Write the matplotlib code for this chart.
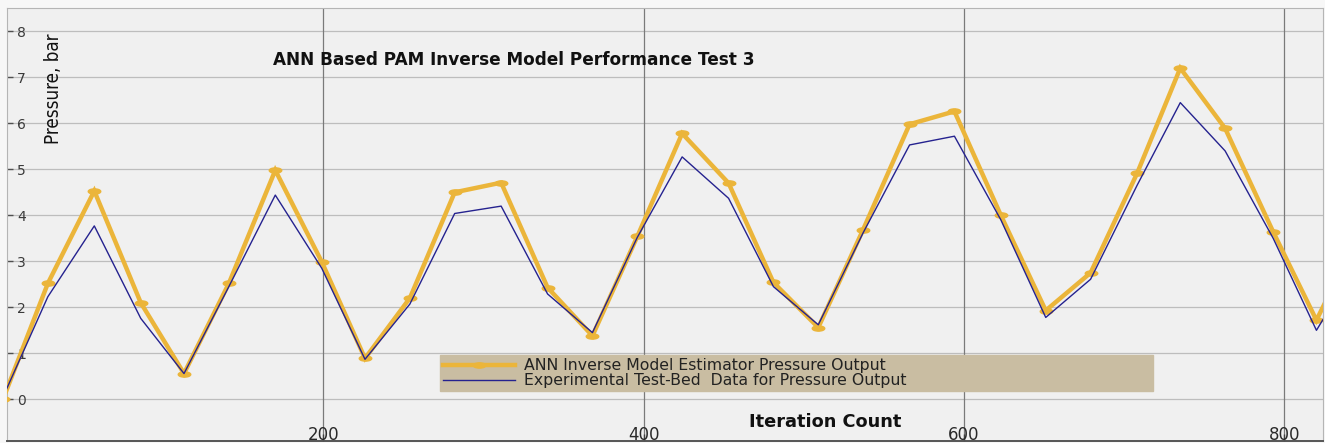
import matplotlib
matplotlib.use("Agg")
import matplotlib.pyplot as plt
from matplotlib.path import Path
from matplotlib.transforms import Affine2D

# ---------------- data ----------------
iterations = [0, 28, 57, 86, 113, 141, 170, 199, 226, 254, 282, 311, 340, 368,
              396, 424, 453, 481, 509, 537, 566, 594, 623, 651, 679, 708, 735,
              763, 793, 820, 848]
ann_pressure = [0.00, 2.52, 4.53, 2.10, 0.56, 2.52, 4.98, 2.99, 0.89, 2.20,
                4.50, 4.71, 2.43, 1.38, 3.54, 5.78, 4.70, 2.54, 1.56, 3.69,
                5.98, 6.26, 4.00, 1.93, 2.75, 4.91, 7.20, 5.89, 3.64, 1.72, 3.70]
exp_pressure = [0.05, 2.23, 3.77, 1.76, 0.56, 2.45, 4.44, 2.85, 0.87, 2.07,
                4.04, 4.20, 2.29, 1.45, 3.52, 5.27, 4.37, 2.45, 1.62, 3.62,
                5.53, 5.72, 3.90, 1.78, 2.61, 4.65, 6.45, 5.40, 3.50, 1.50, 3.10]
x_ticks = [200, 400, 600, 800]
y_ticks = [0, 1, 2, 3, 4, 5, 6, 7, 8]
title_text = "ANN Based PAM Inverse Model Performance Test 3"
xlabel_text = "Iteration Count"
ylabel_text = "Pressure, bar"
legend_labels = ["ANN Inverse Model Estimator Pressure Output",
                 "Experimental Test-Bed  Data for Pressure Output"]

# ---------------- figure ----------------
W, H = 1325, 443
fig = plt.figure(figsize=(W / 100, H / 100), dpi=100, facecolor="#f7f7f7")
ax = fig.add_axes([7 / W, 2 / H, 1316 / W, 433 / H])
ax.set_facecolor("#f0f0f0")

orange = "#EBB53A"
blue = "#25228f"

# horizontally stretched ellipse marker
ell = Path.unit_circle().transformed(Affine2D().scale(1.0, 0.42))

ax.plot(iterations, ann_pressure, color=orange, lw=3.2, marker=ell,
        markersize=9, markerfacecolor=orange, markeredgecolor=orange,
        solid_joinstyle="miter", label=legend_labels[0], zorder=3)
ax.plot(iterations, exp_pressure, color=blue, lw=1.0,
        label=legend_labels[1], zorder=4)

ax.set_xlim(2.5, 824.1)
ax.set_ylim(-0.906, 8.507)

ax.set_xticks(x_ticks)
ax.set_yticks(y_ticks)
ax.set_xticklabels([str(v) for v in x_ticks])
ax.set_yticklabels([str(v) for v in y_ticks])

ax.tick_params(axis="y", direction="in", length=4.3, width=1.0, color="#505050",
               pad=-13.7, labelsize=10, labelcolor="#3a3a3a")
ax.tick_params(axis="x", direction="in", length=5, width=1.0, color="#404040",
               pad=-10.8, labelsize=12, labelcolor="#2a2a2a")
for lab in ax.get_xticklabels() + ax.get_yticklabels():
    lab.set_fontfamily("DejaVu Sans")

# grid
ax.grid(False)
for y in y_ticks:
    ax.axhline(y, color="#bdbdbd", lw=0.9, zorder=1)
for x in x_ticks:
    ax.axvline(x, color="#7a7a7a", lw=0.9, zorder=1)

for side in ["top", "left", "right"]:
    ax.spines[side].set_color("#b5b5b5")
    ax.spines[side].set_linewidth(0.8)
ax.spines["bottom"].set_color("#555555")
ax.spines["bottom"].set_linewidth(1.4)

# title, labels inside the axes
ax.text(0.385, 0.879, title_text, transform=ax.transAxes, ha="center",
        va="center", fontsize=12.2, fontweight="bold", color="#111111",
        family="DejaVu Sans", zorder=6)
ax.text(0.6216, 0.044, xlabel_text, transform=ax.transAxes, ha="center",
        va="center", fontsize=12.8, fontweight="bold", color="#111111",
        family="DejaVu Sans", zorder=6)
ax.text(0.035, 0.813, ylabel_text, transform=ax.transAxes, ha="center",
        va="center", rotation=90, fontsize=13.5, color="#111111",
        fontstretch="condensed", fontweight="medium",
        family="DejaVu Sans", zorder=6)

leg = ax.legend(loc="center left", bbox_to_anchor=(0.329, 0.120, 0.542, 0.074),
                mode="expand", borderaxespad=0, ncol=1,
                labelspacing=0.0, handlelength=4.6, handletextpad=0.55,
                borderpad=0.2, fancybox=False, framealpha=1.0,
                facecolor="#c9bda2", edgecolor="#c9bda2",
                prop={"family": "DejaVu Sans", "size": 11.3})
for t in leg.get_texts():
    t.set_color("#222222")
leg.set_zorder(7)

fig.savefig("out.png", dpi=100, facecolor=fig.get_facecolor())
